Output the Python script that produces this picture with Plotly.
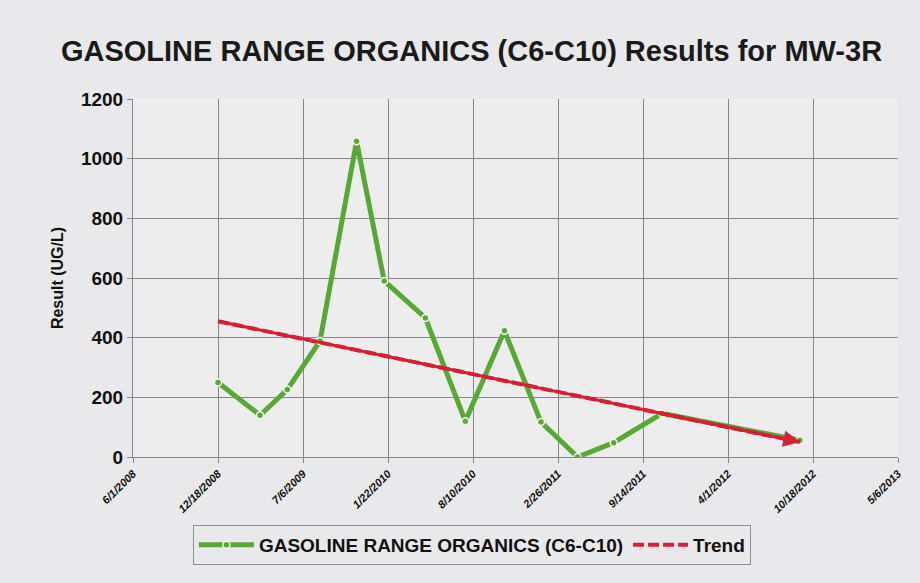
import plotly.graph_objects as go

# ---- data ----
sample_dates = ["2008-12-18", "2009-03-27", "2009-05-30", "2009-08-15", "2009-11-09",
                "2010-01-13", "2010-04-20", "2010-07-23", "2010-10-23", "2011-01-17",
                "2011-04-13", "2011-07-07", "2011-10-29", "2012-09-17"]
gro_values = [250, 140, 226, 389, 1058, 590, 466, 120, 423, 117, 0, 48, 146, 56]

trend_dates = ["2008-12-18", "2012-09-17"]
trend_values = [455, 50]

tick_dates = ["2008-06-01", "2008-12-18", "2009-07-06", "2010-01-22", "2010-08-10",
              "2011-02-26", "2011-09-14", "2012-04-01", "2012-10-18", "2013-05-06"]
tick_labels = ["6/1/2008", "12/18/2008", "7/6/2009", "1/22/2010", "8/10/2010",
               "2/26/2011", "9/14/2011", "4/1/2012", "10/18/2012", "5/6/2013"]
y_ticks = [0, 200, 400, 600, 800, 1000, 1200]

FONT = "Liberation Sans, Arial, sans-serif"
GREEN = "#58a836"
RED = "#d61f35"

fig = go.Figure()
fig.add_trace(go.Scatter(
    x=sample_dates, y=gro_values, mode="lines+markers",
    name="<b>GASOLINE RANGE ORGANICS (C6-C10)</b>",
    line=dict(color=GREEN, width=5),
    marker=dict(symbol="circle", size=7, color=GREEN, line=dict(color="#f4f8ee", width=1.5)),
))
fig.add_trace(go.Scatter(
    x=trend_dates, y=trend_values, mode="lines", name="<b>Trend</b>",
    line=dict(color=RED, width=4, dash="11px,4px"),
))

# arrowhead at trend end
fig.add_annotation(
    x=trend_dates[1], y=trend_values[1], ax=trend_dates[0], ay=trend_values[0],
    xref="x", yref="y", axref="x", ayref="y", text="", showarrow=True,
    arrowhead=2, arrowsize=1.1, arrowwidth=3, arrowcolor=RED, standoff=0,
)

fig.update_layout(
    width=920, height=583,
    margin=dict(l=133, r=22, t=99, b=126),
    paper_bgcolor="#e9e9eb",
    plot_bgcolor="#ededee",
    font=dict(family=FONT, color="#111111"),
    title=dict(text="<b>GASOLINE RANGE ORGANICS (C6-C10) Results for MW-3R</b>",
               x=0.5125, xanchor="center", y=0.912, yanchor="middle",
               font=dict(size=29, family=FONT, color="#1a1a1a")),
    showlegend=True,
    legend=dict(orientation="h", x=0.443, xanchor="center", y=-0.19, yanchor="top",
                bordercolor="#8f8f8f", borderwidth=1, bgcolor="#e9e9eb",
                font=dict(size=19, family=FONT, color="#111111"),
                itemwidth=55, traceorder="normal", valign="middle"),
)

fig.update_xaxes(
    type="date", range=[tick_dates[0], tick_dates[-1]],
    tickvals=tick_dates, ticktext=["<b><i>" + t + "</i></b>" for t in tick_labels], tickangle=-45,
    tickfont=dict(size=11, family=FONT, color="#111111"),
    showgrid=True, gridcolor="#84868e", gridwidth=1,
    showline=True, linecolor="#84868e", ticks="outside", ticklen=5, tickcolor="#84868e",
    zeroline=False,
)
fig.update_yaxes(
    range=[0, 1200], tickvals=y_ticks, ticktext=["<b>%d</b>" % v for v in y_ticks],
    tickfont=dict(size=19, family=FONT, color="#111111"),
    title=dict(text="<b>Result (UG/L)</b>", font=dict(size=16, family=FONT, color="#111111"), standoff=13),
    showgrid=True, gridcolor="#84868e", gridwidth=1,
    showline=True, linecolor="#84868e", ticks="outside", ticklen=5, tickcolor="#84868e",
    zeroline=False,
)

fig.write_html("out.html", config={"displayModeBar": False},
               post_script="document.body.style.margin='0';document.body.style.background='#e9e9eb';")
